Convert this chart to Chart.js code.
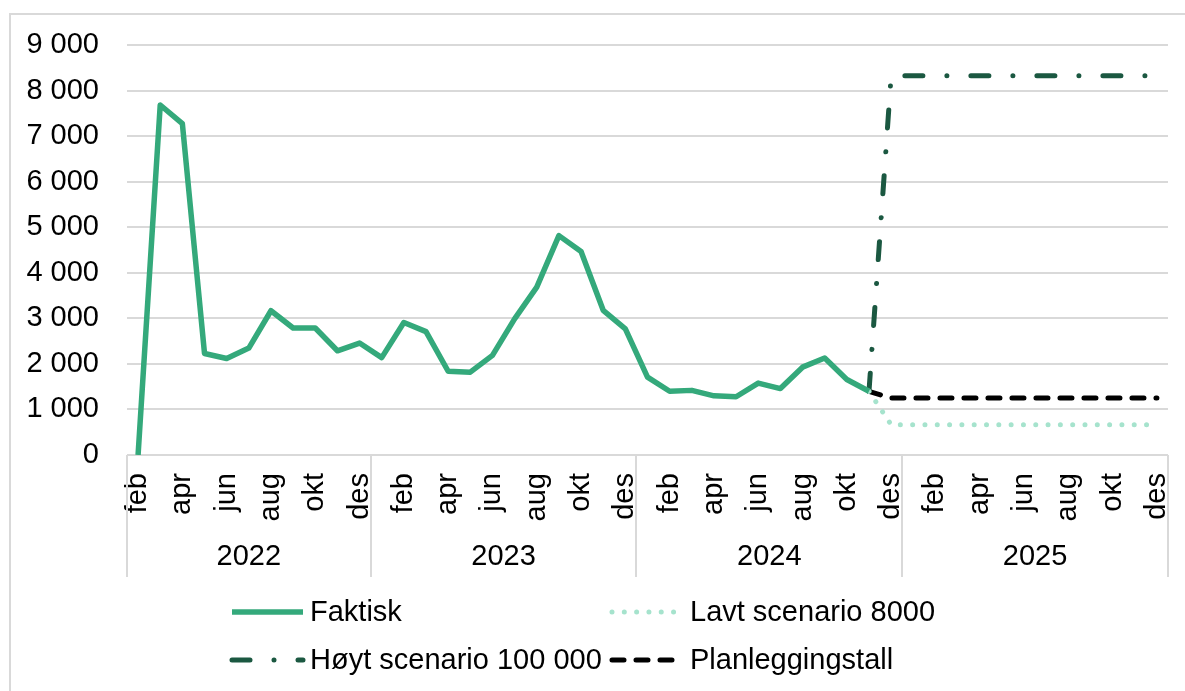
<!DOCTYPE html>
<html>
<head>
<meta charset="utf-8">
<script src="https://cdn.jsdelivr.net/npm/chart.js@4.4.0/dist/chart.umd.min.js"></script>
<style>
  html, body { margin: 0; padding: 0; background: #fff; overflow: hidden; }
  #wrap { position: relative; width: 1185px; height: 691px; }
</style>
</head>
<body>
<div id="wrap"><canvas id="chart"></canvas></div>
<script>
// months shown on the axis, first data month is feb 2022
const monthNames = ['jan', 'feb', 'mar', 'apr', 'mai', 'jun', 'jul', 'aug', 'sep', 'okt', 'nov', 'des'];
const years = ['2022', '2023', '2024', '2025'];

const categories = [];
years.forEach((y, yi) => {
  monthNames.forEach((m, mi) => {
    if (yi === 0 && mi === 0) return; // series starts in feb 2022
    categories.push(m + ' ' + y);
  });
});

// Faktisk: feb 2022 - nov 2024
const faktisk = [
  0, 7690, 7280, 2230, 2120, 2350, 3170, 2790, 2790, 2290, 2460,
  2140, 2910, 2710, 1840, 1820, 2190, 2990, 3690, 4820, 4470, 3180, 2770,
  1710, 1400, 1420, 1300, 1280, 1580, 1460, 1930, 2130, 1660, 1400
];

// scenarios: nov 2024 - des 2025
const scenarioMonths = categories.slice(categories.indexOf('nov 2024'));
const lavt = [1400, 667, 667, 667, 667, 667, 667, 667, 667, 667, 667, 667, 667, 667];
const hoyt = [1400, 8333, 8333, 8333, 8333, 8333, 8333, 8333, 8333, 8333, 8333, 8333, 8333, 8333];
const plan = [1400, 1250, 1250, 1250, 1250, 1250, 1250, 1250, 1250, 1250, 1250, 1250, 1250, 1250];

const yTicks = [0, 1000, 2000, 3000, 4000, 5000, 6000, 7000, 8000, 9000];

const FONT = "'Liberation Sans', Arial, sans-serif";
const FSIZE = 29;
const GRID = '#d9d9d9';

const toPoints = (vals) => scenarioMonths.map((m, i) => ({ x: m, y: vals[i] }));
const fmt = (v) => String(v).replace(/\B(?=(\d{3})+(?!\d))/g, ' ');

// frame, year row, separators and legend
const extras = {
  id: 'extras',
  beforeDraw(chart) {
    const ctx = chart.ctx;
    ctx.save();
    ctx.strokeStyle = GRID;
    ctx.lineWidth = 2;
    ctx.strokeRect(10, 14, 2000, 2000);
    ctx.restore();
  },
  afterDraw(chart) {
    const ctx = chart.ctx;
    const xs = chart.scales.x;
    const area = chart.chartArea;
    const half = (xs.getPixelForValue(1) - xs.getPixelForValue(0)) / 2;
    ctx.save();
    ctx.strokeStyle = GRID;
    ctx.lineWidth = 2;
    ctx.fillStyle = '#000';
    ctx.font = FSIZE + 'px ' + FONT;
    ctx.textAlign = 'center';
    ctx.textBaseline = 'middle';
    years.forEach((y) => {
      const idx = categories.map((c, i) => c.endsWith(y) ? i : -1).filter(i => i >= 0);
      const left = xs.getPixelForValue(idx[0]) - half;
      const right = xs.getPixelForValue(idx[idx.length - 1]) + half;
      [left, right].forEach((px) => {
        ctx.beginPath();
        ctx.moveTo(Math.round(px), area.bottom);
        ctx.lineTo(Math.round(px), 577);
        ctx.stroke();
      });
      ctx.fillText(y, (left + right) / 2, 557);
    });

    // legend, two columns
    const slots = [[232, 612], [612, 612], [232, 660], [612, 660]];
    chart.data.datasets.forEach((ds, i) => {
      const [lx, ly] = slots[i];
      ctx.save();
      ctx.strokeStyle = ds.borderColor;
      ctx.lineWidth = ds.borderWidth;
      ctx.lineCap = ds.borderCapStyle || 'butt';
      ctx.setLineDash(ds.borderDash || []);
      ctx.beginPath();
      ctx.moveTo(lx, ly);
      ctx.lineTo(lx + 71, ly);
      ctx.stroke();
      ctx.restore();
      ctx.textAlign = 'left';
      ctx.fillText(ds.label, lx + 78, ly + 1);
    });
    ctx.restore();
  }
};

new Chart(document.getElementById('chart'), {
  type: 'line',
  data: {
    labels: categories,
    datasets: [
      {
        label: 'Faktisk',
        data: faktisk,
        borderColor: '#34a97b',
        borderWidth: 5.5,
        borderJoinStyle: 'round',
        pointRadius: 0,
        tension: 0
      },
      {
        label: 'Lavt scenario 8000',
        data: toPoints(lavt),
        borderColor: '#a6e3cd',
        borderWidth: 5,
        borderCapStyle: 'round',
        borderDash: [0.01, 12.3],
        pointRadius: 0
      },
      {
        label: 'Høyt scenario 100 000',
        data: toPoints(hoyt),
        borderColor: '#1b5841',
        borderWidth: 5,
        borderCapStyle: 'round',
        borderDash: [18, 24, 0.01, 24],
        pointRadius: 0
      },
      {
        label: 'Planleggingstall',
        data: toPoints(plan),
        borderColor: '#000000',
        borderWidth: 5,
        borderCapStyle: 'round',
        borderDash: [12, 12],
        pointRadius: 0
      }
    ]
  },
  options: {
    responsive: true,
    maintainAspectRatio: false,
    animation: false,
    layout: { padding: { left: 20, right: 17, top: 44, bottom: 0 } },
    plugins: {
      legend: { display: false },
      tooltip: { enabled: false }
    },
    scales: {
      x: {
        type: 'category',
        offset: true,
        grid: { display: false, drawTicks: false },
        border: { display: false },
        ticks: {
          autoSkip: false,
          minRotation: 90,
          maxRotation: 90,
          padding: 18,
          color: '#000',
          font: { family: FONT, size: FSIZE },
          callback: (v, i) => i % 2 === 0 ? categories[i].split(' ')[0] : ''
        },
        afterFit: (s) => { s.height = 236; s.paddingLeft = 0; s.paddingRight = 0; }
      },
      y: {
        min: yTicks[0],
        max: yTicks[yTicks.length - 1],
        afterBuildTicks: (s) => { s.ticks = yTicks.map(v => ({ value: v })); },
        grid: { color: GRID, lineWidth: 2, drawTicks: false },
        border: { display: false },
        ticks: {
          padding: 28,
          color: '#000',
          font: { family: FONT, size: FSIZE },
          callback: (v) => fmt(v)
        },
        afterFit: (s) => { s.width = 107; }
      }
    }
  },
  plugins: [extras]
});
</script>
</body>
</html>
